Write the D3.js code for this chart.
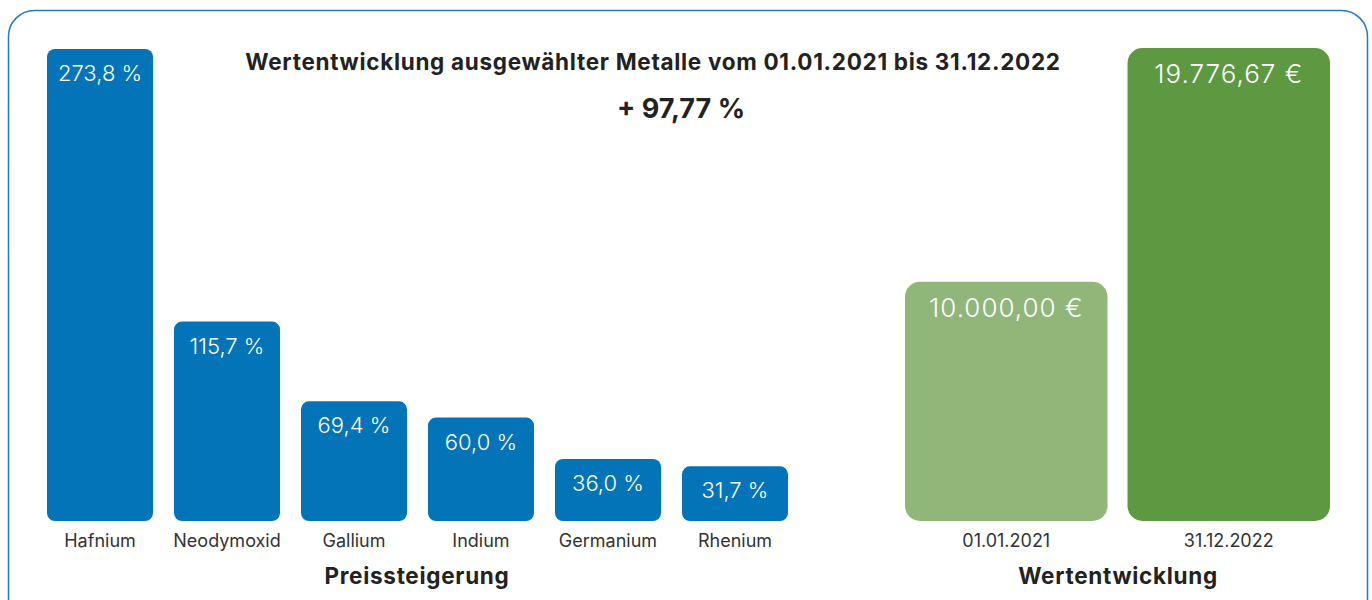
<!DOCTYPE html>
<html><head><meta charset="utf-8">
<script src="https://cdn.jsdelivr.net/npm/d3@7"></script>
<style>html,body{margin:0;padding:0;background:#fff;overflow:hidden}svg{display:block}</style>
</head><body>
<script>
const metals = ["Hafnium","Neodymoxid","Gallium","Indium","Germanium","Rhenium"];
const increases = [273.8, 115.7, 69.4, 60.0, 36.0, 31.7];
const increaseLabels = ["273,8 %","115,7 %","69,4 %","60,0 %","36,0 %","31,7 %"];
const dates = ["01.01.2021","31.12.2022"];
const values = [10000.00, 19776.67];
const valueLabels = ["10.000,00 €","19.776,67 €"];
const title = "Wertentwicklung ausgewählter Metalle vom 01.01.2021 bis 31.12.2022";
const subtitle = "+ 97,77 %";
const leftTitle = "Preissteigerung";
const rightTitle = "Wertentwicklung";

const W = 1372, H = 600, base = 521;
const svg = d3.select("body").append("svg").attr("width", W).attr("height", H)
  .style("font-family", "Inter, 'Noto Sans', sans-serif");

// frame
svg.append("rect").attr("x", 8.5).attr("y", 10.5).attr("width", 1359).attr("height", 640)
  .attr("rx", 26).attr("fill", "none").attr("stroke", "#1f7ac9").attr("stroke-width", 1.5);

// left chart
const xL = d3.scaleBand().domain(metals).range([47, 788]).paddingInner(0.165);
const yL = d3.scaleLinear().domain([0, 273.8]).range([base, 49]);
const gL = svg.append("g");
gL.selectAll("rect").data(metals).join("rect")
  .attr("x", d => xL(d)).attr("width", xL.bandwidth())
  .attr("y", (d, i) => yL(increases[i])).attr("height", (d, i) => base - yL(increases[i]))
  .attr("rx", 8).attr("fill", "#0474b9");
gL.selectAll("text.v").data(metals).join("text").attr("class", "v")
  .attr("x", d => xL(d) + xL.bandwidth() / 2).attr("y", (d, i) => yL(increases[i]) + 32)
  .attr("text-anchor", "middle").attr("fill", "#fff").attr("font-size", 22).attr("font-weight", 300)
  .text((d, i) => increaseLabels[i]);
const axL = svg.append("g").attr("transform", `translate(0,${base})`)
  .call(d3.axisBottom(xL).tickSize(0).tickPadding(13));
axL.select(".domain").remove();
axL.selectAll("text").attr("font-size", 18).attr("fill", "#333").attr("font-family", "Inter, sans-serif");

// right chart
const xR = d3.scaleBand().domain(dates).range([905, 1330]).paddingInner(0.09);
const yR = d3.scaleLinear().domain([0, 19776.67]).range([base, 48]);
const colors = ["#91b67a", "#5c9940"];
const gR = svg.append("g");
gR.selectAll("rect").data(dates).join("rect")
  .attr("x", d => xR(d)).attr("width", xR.bandwidth())
  .attr("y", (d, i) => yR(values[i])).attr("height", (d, i) => base - yR(values[i]))
  .attr("rx", 15).attr("fill", (d, i) => colors[i]);
gR.selectAll("text.v").data(dates).join("text").attr("class", "v")
  .attr("x", d => xR(d) + xR.bandwidth() / 2).attr("y", (d, i) => yR(values[i]) + 35)
  .attr("text-anchor", "middle").attr("fill", "#fff").attr("font-size", 26).attr("font-weight", 300)
  .attr("letter-spacing", 1)
  .text((d, i) => valueLabels[i]);
const axR = svg.append("g").attr("transform", `translate(0,${base})`)
  .call(d3.axisBottom(xR).tickSize(0).tickPadding(13));
axR.select(".domain").remove();
axR.selectAll("text").attr("font-size", 18).attr("fill", "#333").attr("font-family", "Inter, sans-serif");

// titles
const bold = (x, y, size, ls, t) => svg.append("text").attr("x", x).attr("y", y)
  .attr("text-anchor", "middle").attr("font-size", size).attr("font-weight", 700)
  .attr("letter-spacing", ls).attr("fill", "#222").text(t);
bold(653, 70, 22.5, 0.7, title);
bold(681, 118, 27, 0, subtitle);
bold(417, 584, 22.5, 0.7, leftTitle);
bold(1118, 584, 22.5, 0.7, rightTitle);
</script>
</body></html>
